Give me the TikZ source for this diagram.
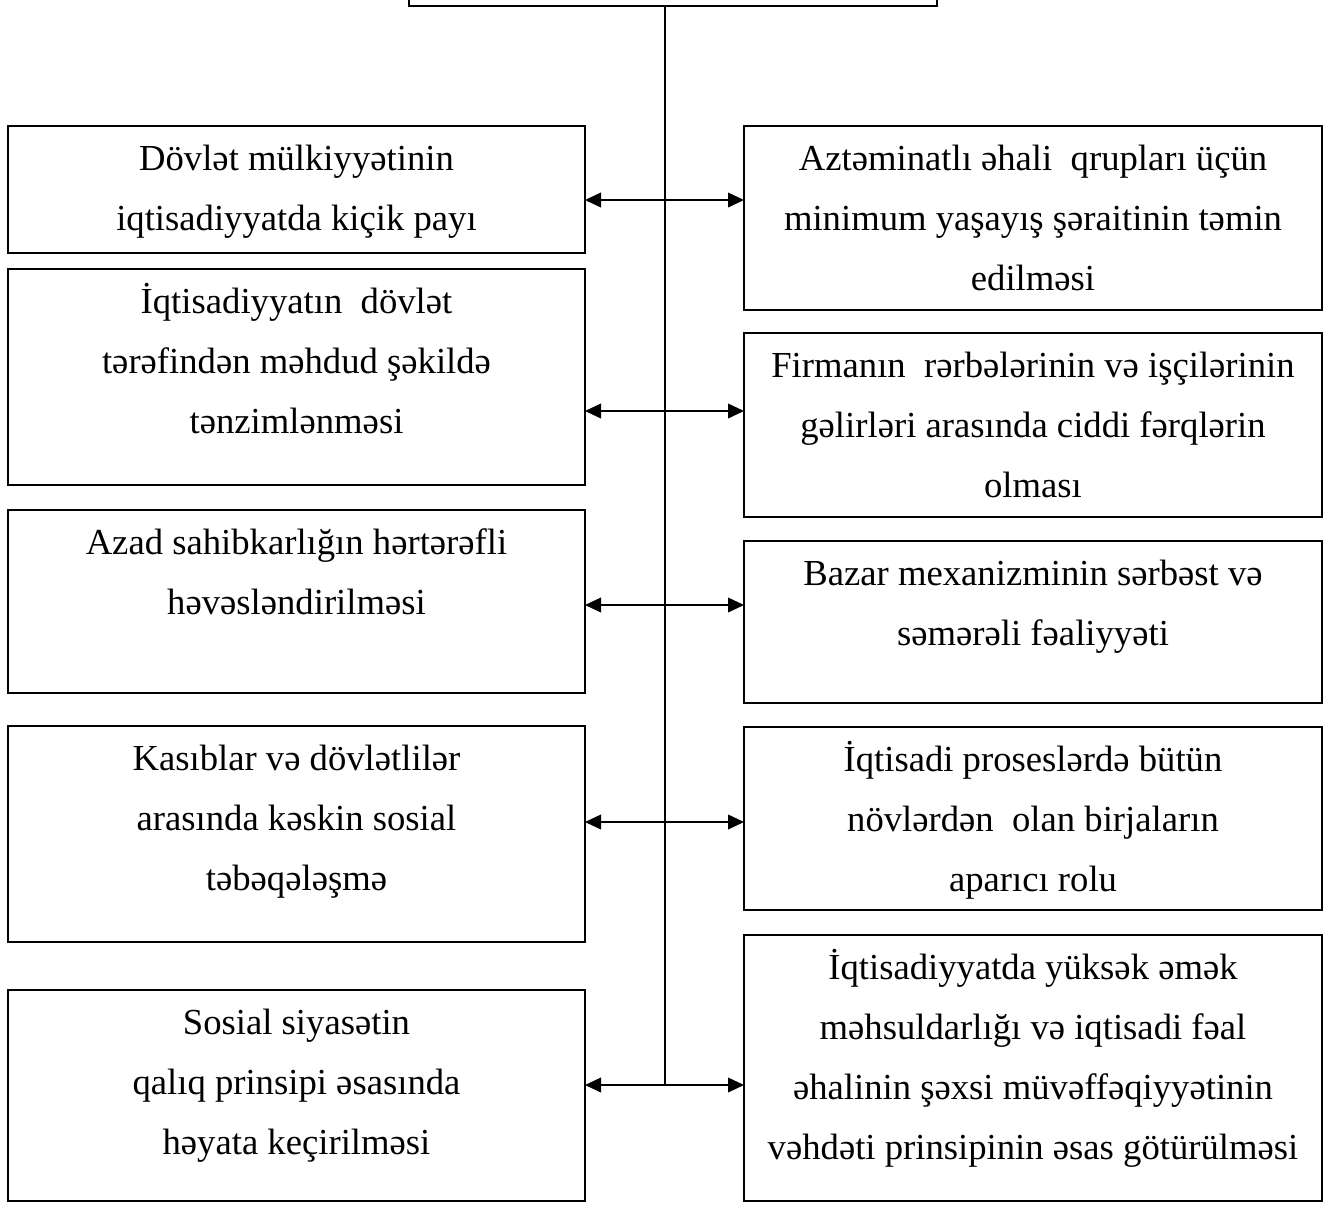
\documentclass[tikz,border=0pt]{standalone}
\usepackage{fontspec}
\setmainfont{Liberation Serif}
\usetikzlibrary{arrows.meta}
\newlength\pxu
\setlength\pxu{0.75pt}
\newcommand\boxtxt[3]{\parbox[c][#1\pxu][t]{#2\pxu}{\centering\fontsize{27.5}{45}\selectfont\rule{0pt}{33pt}#3\par}}
\begin{document}
\begin{tikzpicture}[x=0.75pt,y=-0.75pt,
  box/.style={draw, line width=1.3pt, inner sep=0pt, outer sep=0pt},
  link/.style={{Triangle[length=12pt,width=11pt]}-{Triangle[length=12pt,width=11pt]}, line width=1.3pt}]
\useasboundingbox (0,0) rectangle (1328,1204);
% top box (cut off by the page edge)
\node[box, minimum width=528\pxu, minimum height=60\pxu] (top) at (673,-24) {};
% left column
\node[box] (l1) at (296.5,189.5) {\boxtxt{127}{577}{Dövlət mülkiyyətinin\\iqtisadiyyatda kiçik payı}};
\node[box] (l2) at (296.5,377) {\boxtxt{216}{577}{İqtisadiyyatın\ \ dövlət\\tərəfindən məhdud şəkildə\\tənzimlənməsi}};
\node[box] (l3) at (296.5,601.5) {\boxtxt{183}{577}{Azad sahibkarlığın hərtərəfli\\həvəsləndirilməsi}};
\node[box] (l4) at (296.5,834) {\boxtxt{216}{577}{Kasıblar və dövlətlilər\\arasında kəskin sosial\\təbəqələşmə}};
\node[box] (l5) at (296.5,1095.5) {\boxtxt{211}{577}{Sosial siyasətin\\qalıq prinsipi əsasında\\həyata keçirilməsi}};
% right column
\node[box] (r1) at (1033,218) {\boxtxt{184}{578}{Aztəminatlı əhali\ \ qrupları üçün\\minimum yaşayış şəraitinin təmin\\edilməsi}};
\node[box] (r2) at (1033,425) {\boxtxt{184}{578}{Firmanın\ \ rərbələrinin və işçilərinin\\gəlirləri arasında ciddi fərqlərin\\olması}};
\node[box] (r3) at (1033,622) {\boxtxt{162}{578}{Bazar mexanizminin sərbəst və\\səmərəli fəaliyyəti}};
\node[box] (r4) at (1033,818.5) {\boxtxt{183}{578}{İqtisadi proseslərdə bütün\\növlərdən\ \ olan birjaların\\aparıcı rolu}};
\node[box] (r5) at (1033,1068) {\boxtxt{266}{578}{İqtisadiyyatda yüksək əmək\\məhsuldarlığı və iqtisadi fəal\\əhalinin şəxsi müvəffəqiyyətinin\\vəhdəti prinsipinin əsas götürülməsi}};
% trunk
\coordinate (vend) at (665,1085);
\draw[line width=1.3pt] (top.south -| vend) -- (vend);
% links
\draw[link] (l1.east |- 0,200) -- (r1.west |- 0,200);
\draw[link] (l2.east |- 0,411) -- (r2.west |- 0,411);
\draw[link] (l3.east |- 0,605) -- (r3.west |- 0,605);
\draw[link] (l4.east |- 0,822) -- (r4.west |- 0,822);
\draw[link] (l5.east |- 0,1085) -- (r5.west |- 0,1085);
\end{tikzpicture}
\end{document}
